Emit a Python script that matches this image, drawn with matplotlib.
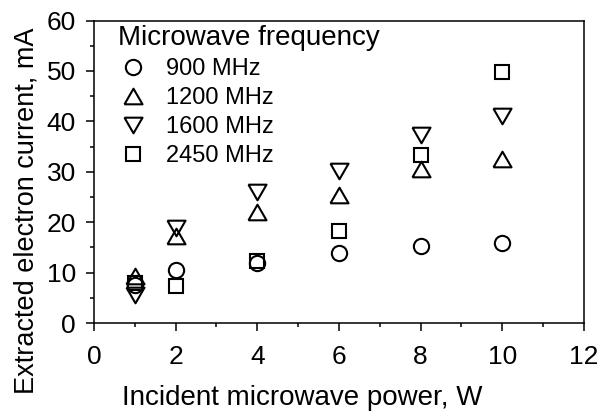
import matplotlib
matplotlib.use("Agg")
import matplotlib.pyplot as plt

plt.rcParams['font.family'] = ['Liberation Sans', 'DejaVu Sans']

# Incident microwave power, W
power = [1, 2, 4, 6, 8, 10]

# Extracted electron current, mA, for each microwave frequency
current_900 = [7.6, 10.5, 12.0, 13.8, 15.2, 15.8]
current_1200 = [9.4, 17.3, 22.0, 25.4, 30.5, 32.6]
current_1600 = [5.6, 18.9, 25.9, 30.2, 37.3, 41.0]
current_2450 = [7.9, 7.4, 12.4, 18.2, 33.4, 49.7]

freq_labels = ["900 MHz", "1200 MHz", "1600 MHz", "2450 MHz"]

# Equilateral triangles (bbox-centred) for the 1200 and 1600 MHz series
tri_up = [(-1, -0.866), (1, -0.866), (0, 0.866), (-1, -0.866)]
tri_down = [(-1, 0.866), (1, 0.866), (0, -0.866), (-1, 0.866)]

fig = plt.figure(figsize=(6.02, 4.11), dpi=100)
ax = fig.add_axes([0.156, 0.214, 0.814, 0.736])

style = dict(linestyle='none', color='black', markerfacecolor='none',
             markeredgewidth=1.5)
ax.plot(power, current_900, marker='o', markersize=11, label=freq_labels[0], **style)
ax.plot(power, current_1200, marker=tri_up, markersize=13, label=freq_labels[1], **style)
ax.plot(power, current_1600, marker=tri_down, markersize=13, label=freq_labels[2], **style)
ax.plot(power, current_2450, marker='s', markersize=10, label=freq_labels[3], **style)

ax.set_xlim(0, 12)
ax.set_ylim(0, 60)
ax.set_xticks(range(0, 13, 2))
ax.set_xticks(range(1, 12, 2), minor=True)
ax.set_yticks(range(0, 61, 10))
ax.set_yticks(range(5, 60, 10), minor=True)

for s in ax.spines.values():
    s.set_linewidth(1.1)
ax.tick_params(which='major', direction='out', length=6, width=1.1,
               labelsize=19)
ax.tick_params(axis='x', which='major', pad=10)
ax.tick_params(axis='y', which='major', pad=7)
ax.tick_params(which='minor', direction='out', length=3, width=1.1)
ax.tick_params(which='both', top=False, right=False)

ax.set_xlabel("Incident microwave power, W", fontsize=20)
ax.set_ylabel("Extracted electron current, mA", fontsize=19.5)
ax.xaxis.set_label_coords(0.425, -0.205)
ax.yaxis.set_label_coords(-0.112, 0.37)

leg = ax.legend(loc='upper left', bbox_to_anchor=(0.044, 0.994), frameon=False,
                title="Microwave frequency", title_fontsize=20, fontsize=17,
                alignment='left', handlelength=1.25, handletextpad=0.8,
                labelspacing=0.3, borderaxespad=0.0, borderpad=0.1)

fig.savefig("out.png", dpi=100)
